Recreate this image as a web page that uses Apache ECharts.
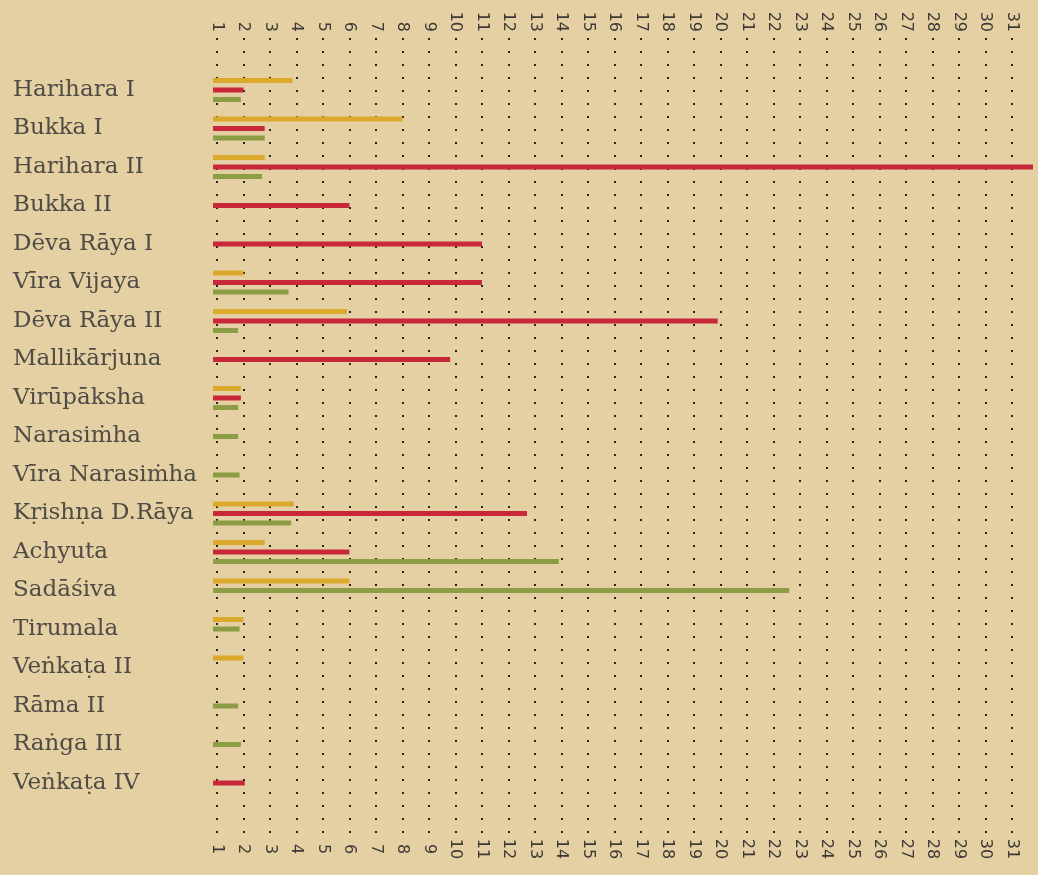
<!DOCTYPE html>
<html>
<head>
<meta charset="utf-8">
<script src="https://cdn.jsdelivr.net/npm/echarts@6.0.0/dist/echarts.min.js"></script>
<style>
  html, body { margin: 0; padding: 0; background: #e5d0a4; }
  #chart { width: 1038px; height: 875px; }
</style>
</head>
<body>
<div id="chart"></div>
<script>
// ---- data ----
const kings = ['Harihara I', 'Bukka I', 'Harihara II', 'Bukka II', 'Dēva Rāya I', 'Vīra Vijaya',
  'Dēva Rāya II', 'Mallikārjuna', 'Virūpāksha', 'Narasiṁha', 'Vīra Narasiṁha', 'Kṛishṇa D.Rāya',
  'Achyuta', 'Sadāśiva', 'Tirumala', 'Veṅkaṭa II', 'Rāma II', 'Raṅga III', 'Veṅkaṭa IV'];
const yellowVals = [3.85, 8, 2.8, null, null, 2, 5.9, null, 1.9, null, null, 3.9, 2.8, 6, 2, 2, null, null, null];
const redVals    = [2, 2.8, 31.8, 6, 11, 11, 19.9, 9.8, 1.9, null, null, 12.7, 6, null, null, null, null, null, 2.05];
const greenVals  = [1.9, 2.8, 2.7, null, null, 3.7, 1.8, null, 1.8, 1.8, 1.85, 3.8, 13.9, 22.6, 1.85, null, 1.8, 1.9, null];
const ticks = [1, 2, 3, 4, 5, 6, 7, 8, 9, 10, 11, 12, 13, 14, 15, 16, 17, 18, 19, 20,
  21, 22, 23, 24, 25, 26, 27, 28, 29, 30, 31];

// ---- style ----
const X_MIN = 1, X_MAX = 31.8, BAR_START = 0.85;
const SLOT = 9.5, BAR_H = 5;
const COLORS = { yellow: '#dba92c', red: '#c8283a', green: '#8d9d45' };

function slotOffset(kind, row) {
  if (kind === 'yellow') return -SLOT;
  if (kind === 'red') return 0;
  return redVals[row] != null ? SLOT : 0; // green takes red's slot when red is absent
}

function barSeries(kind, vals) {
  return {
    type: 'custom',
    xAxisIndex: 2,
    yAxisIndex: 1,
    silent: true,
    data: vals.map((v, i) => (v == null ? null : [v, i])).filter(d => d),
    renderItem: function (params, api) {
      const v = api.value(0), row = api.value(1);
      const s = api.coord([BAR_START, row]);
      const e = api.coord([v, row]);
      const off = slotOffset(kind, row);
      return {
        type: 'rect',
        shape: { x: s[0], y: s[1] + off - BAR_H / 2, width: e[0] - s[0], height: BAR_H },
        style: { fill: COLORS[kind] }
      };
    }
  };
}

const tickFmt = v => (ticks.indexOf(v) >= 0 ? String(v) : '');
const tickFont = { fontFamily: 'DejaVu Sans', fontSize: 16, color: '#3d3a35' };

const chart = echarts.init(document.getElementById('chart'), null, { renderer: 'canvas' });
chart.setOption({
  backgroundColor: '#e5d0a4',
  animation: false,
  grid: [
    { left: 217, right: 5, top: 38, bottom: 40 },
    { left: 217, right: 5, top: 70.75, bottom: 72.75 }
  ],
  xAxis: [
    {
      gridIndex: 0, type: 'value', position: 'top', min: X_MIN, max: X_MAX, interval: 1,
      axisLine: { show: false }, axisTick: { show: false },
      axisLabel: Object.assign({ rotate: -90, margin: 6, formatter: tickFmt, showMaxLabel: false }, tickFont),
      splitLine: {
        show: true, showMaxLine: false,
        lineStyle: { color: '#26221c', width: 2, type: [2, 11] }
      }
    },
    {
      gridIndex: 0, type: 'value', position: 'bottom', min: X_MIN, max: X_MAX, interval: 1,
      axisLine: { show: false }, axisTick: { show: false },
      axisLabel: Object.assign({ rotate: -90, margin: 14, align: 'center', formatter: tickFmt, showMaxLabel: false }, tickFont),
      splitLine: { show: false }
    },
    {
      gridIndex: 1, type: 'value', min: X_MIN, max: X_MAX, show: false
    }
  ],
  yAxis: [
    { gridIndex: 0, type: 'value', min: 0, max: 1, show: false },
    {
      gridIndex: 1, type: 'category', data: kings, inverse: true,
      axisLine: { show: false }, axisTick: { show: false }, splitLine: { show: false },
      axisLabel: {
        align: 'left', margin: 204, padding: [0, 0, 14, 0],
        fontFamily: 'DejaVu Serif', fontSize: 23, color: '#4f4c45'
      }
    }
  ],
  series: [
    barSeries('yellow', yellowVals),
    barSeries('red', redVals),
    barSeries('green', greenVals)
  ]
});
</script>
</body>
</html>
